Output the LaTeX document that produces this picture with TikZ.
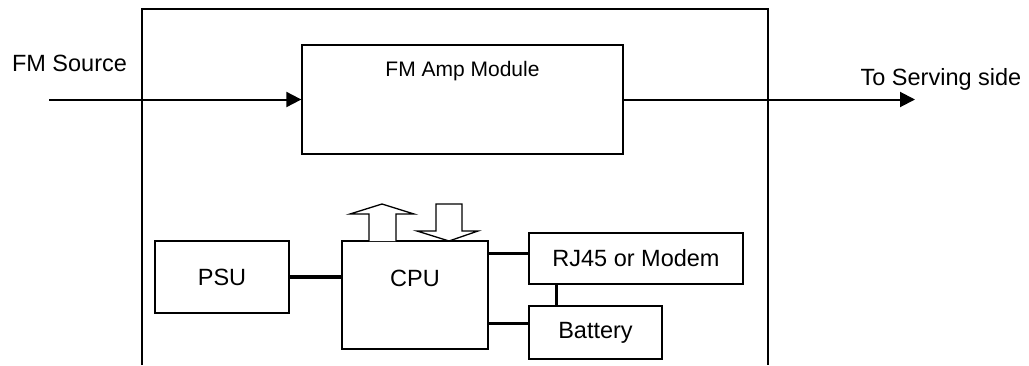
\documentclass[tikz,border=0pt]{standalone}
\usepackage{fontspec}
\setmainfont{Liberation Sans}
\usetikzlibrary{arrows.meta}
\tikzset{
  blk/.style={draw,line width=0.65pt,inner sep=0pt,font=\fontsize{11.75}{14}\selectfont},
  txt/.style={inner sep=0pt,font=\fontsize{11.75}{14}\selectfont},
  sig/.style={line width=1pt,-{Triangle[length=7.5pt,width=7.5pt]}},
  link/.style={line width=1.5pt},
  fat/.style={draw,line width=0.65pt,fill=white}
}
\begin{document}
\begin{tikzpicture}[x=0.5pt,y=-0.5pt]
\useasboundingbox (0,0) rectangle (1029,365);
\draw[line width=0.65pt] (142,365) -- (142,9) -- (768,9) -- (768,365);
\node[blk,minimum width=160.5pt,minimum height=54.5pt,label={[txt,font=\fontsize{10.5}{12}\selectfont,yshift=14.15pt]center:FM Amp Module}] (amp) at (462.5,99.5) {};
\node[blk,minimum width=67pt,minimum height=36pt] (psu) at (222,277) {PSU};
\node[blk,minimum width=73pt,minimum height=54pt,label={[txt,yshift=8.5pt]center:CPU}] (cpu) at (415,295) {};
\node[blk,minimum width=107pt,minimum height=25.5pt] (rj) at (636,258.5) {RJ45 or Modem};
\node[blk,minimum width=66.5pt,minimum height=26.5pt] (bat) at (595.5,332.5) {Battery};
\coordinate (src) at (49,99.5);
\coordinate (dst) at (915,99.5);
\node[txt,anchor=base] (srclbl) at (69.5,71.7) {FM Source};
\node[txt,anchor=base] (dstlbl) at (941,85) {To Serving side};
\draw[sig] (src) -- (amp.west);
\draw[sig] (amp.east) -- (dst);
\draw[line width=2.25pt] (psu.east) -- (psu.east -| cpu.west);
\draw[link] ([yshift=2.75pt]rj.west) -- ([yshift=2.75pt]rj.west -| cpu.east);
\draw[link] ([yshift=4.75pt]bat.west) -- ([yshift=4.75pt]bat.west -| cpu.east);
\draw[link] ([xshift=-19.75pt]bat.north) -- ([xshift=-19.75pt]bat.north |- rj.south);
\draw[fat] (369,241) -- (369,214) -- (350,214) -- (382,204) -- (414,214) -- (396,214) -- (396,241);
\draw[fat] (436,231) -- (436,204) -- (462,204) -- (462,231) -- (478,231) -- (449,241) -- (417,231) -- cycle;
\end{tikzpicture}
\end{document}
